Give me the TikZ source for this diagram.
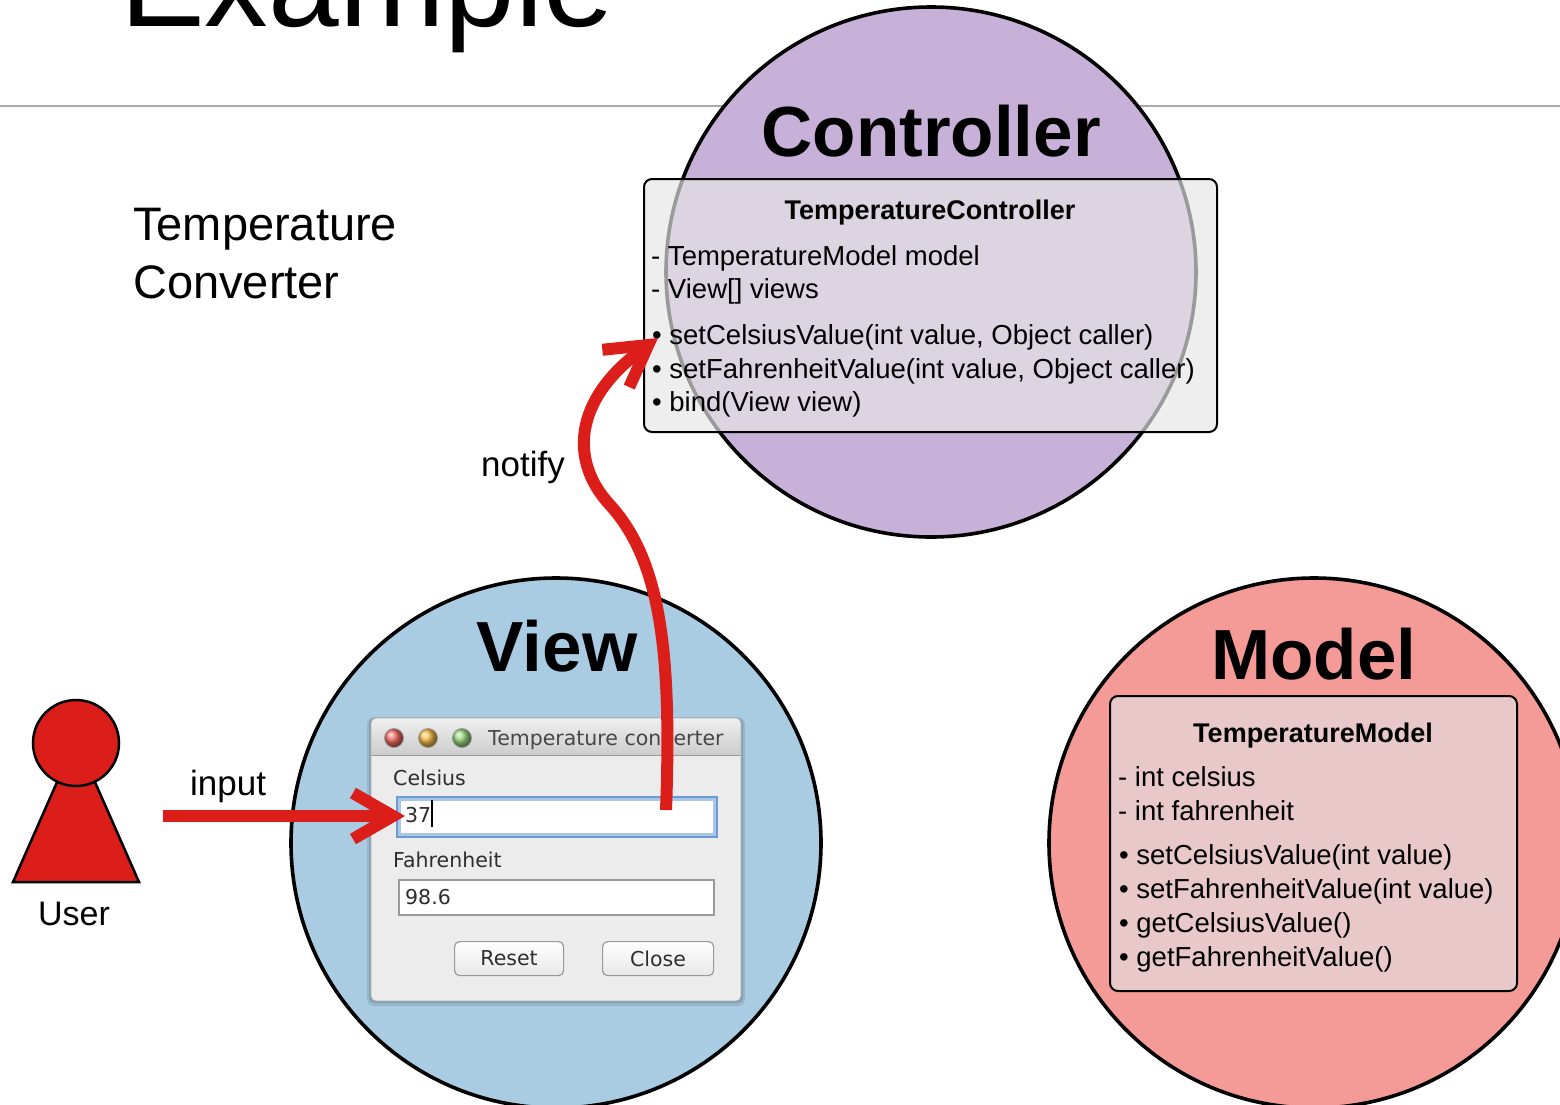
\documentclass[tikz,border=0pt]{standalone}
\usepackage{fontspec}
\setmainfont{Liberation Sans}
\newfontfamily\uifont{DejaVu Sans}
\usetikzlibrary{arrows.meta}
\definecolor{ctrlfill}{HTML}{C8B1D8}
\definecolor{viewfill}{HTML}{A9CCE3}
\definecolor{modelfill}{HTML}{F49B98}
\definecolor{modelboxfill}{HTML}{E8C8C8}
\definecolor{ctrlboxfill}{HTML}{E6E6E6}
\definecolor{arrowred}{HTML}{DC1E1A}
\definecolor{rulegray}{HTML}{AAAAAA}
\definecolor{uibody}{HTML}{ECECEC}
\definecolor{fieldglow}{HTML}{A8C6EA}
\definecolor{fieldblue}{HTML}{6E9AD2}
\definecolor{lightred}{HTML}{F06A62}
\definecolor{lightorange}{HTML}{F5BC48}
\definecolor{lightgreen}{HTML}{9AD77A}
\newcommand{\fs}[1]{\fontsize{#1}{#1}\selectfont}
\begin{document}
\begin{tikzpicture}[x=1pt,y=-1pt,
  mvc/.style={circle,draw=black,line width=3.6pt,minimum size=530pt,inner sep=0pt},
  biglabel/.style={font=\fs{71}\bfseries,anchor=base,inner sep=0pt},
  classbox/.style={draw=black,line width=2pt,rounded corners=8pt,anchor=north west,inner sep=0pt},
  member/.style={font=\fs{27.5},anchor=base west,inner sep=0pt},
  classtitle/.style={font=\fs{27}\bfseries,anchor=base,inner sep=0pt},
  plain/.style={font=\fs{35},inner sep=0pt},
  redarrow/.style={draw=arrowred,line width=12pt,-{Straight Barb[length=40pt,width=46pt]}},
  uitext/.style={font=\uifont\fs{20.5},text=black!82,anchor=base west,inner sep=0pt},
  uifield/.style={fill=white,anchor=north west,inner sep=0pt},
  uibutton/.style={draw=black!40,line width=1.2pt,rounded corners=5pt,top color=white,bottom color=black!9,
    font=\uifont\fs{20.5},text=black!82,anchor=north west,inner sep=0pt},
  light/.style={draw=black!40,line width=0.8pt},
]
\useasboundingbox (0,0) rectangle (1560,1104);
\clip (0,0) rectangle (1560,1104);

% heading and rule
\draw[rulegray,line width=2pt] (0,106) -- (1560,106);
\node[font=\fs{127},anchor=base west,inner sep=0pt] (title) at (120,26) {Example};
\node[font=\fs{47},anchor=base west,inner sep=0pt] (sub1) at (133,240) {Temperature};
\node[font=\fs{47},anchor=base west,inner sep=0pt] (sub2) at (133,298) {Converter};

% MVC circles
\node[mvc,fill=ctrlfill] (ctrl) at (931,272) {};
\node[mvc,fill=viewfill] (view) at (556,843) {};
\node[mvc,fill=modelfill] (model) at (1314,843) {};

\node[biglabel] (ctrllabel) at (931,156) {Controller};
\node[biglabel] (viewlabel) at (557,671) {View};
\node[biglabel] (modellabel) at (1314,679) {Model};

% controller class box
\node[classbox,fill=ctrlboxfill,fill opacity=0.67,minimum width=573pt,minimum height=253pt] (ctrlbox) at (643,178) {};
\node[classtitle] (ctrltitle) at (930,219) {TemperatureController};
\node[member] (c1) at (651,265) {- TemperatureModel model};
\node[member] (c2) at (651,298) {- View[] views};
\node[member] (c3) at (652,344) {• setCelsiusValue(int value, Object caller)};
\node[member] (c4) at (652,378) {• setFahrenheitValue(int value, Object caller)};
\node[member] (c5) at (652,411) {• bind(View view)};

% model class box
\node[classbox,fill=modelboxfill,minimum width=407pt,minimum height=295pt] (modelbox) at (1109,695) {};
\node[classtitle] (modeltitle) at (1313,742) {TemperatureModel};
\node[member] (m1) at (1118,786) {- int celsius};
\node[member] (m2) at (1118,820) {- int fahrenheit};
\node[member] (m3) at (1119,864) {• setCelsiusValue(int value)};
\node[member] (m4) at (1119,898) {• setFahrenheitValue(int value)};
\node[member] (m5) at (1119,932) {• getCelsiusValue()};
\node[member] (m6) at (1119,966) {• getFahrenheitValue()};

% Swing window
\fill[black,opacity=0.10,rounded corners=7pt] (367,717) rectangle (745,1006);
\fill[black,opacity=0.12,rounded corners=6pt] (369,718) rectangle (743,1003);
\begin{scope}
  \clip[rounded corners=5pt] (371,718) rectangle (741,1001);
  \fill[uibody] (371,718) rectangle (741,1001);
  \shade[top color=black!6,bottom color=black!20] (371,718) rectangle (741,755);
  \draw[black!40,line width=1pt] (371,755) -- (741,755);
\end{scope}
\draw[black!30,line width=0.8pt,rounded corners=5pt] (371,718) rectangle (741,1001);
\shade[ball color=lightred] (394,738) circle (9.5pt);
\draw[light] (394,738) circle (9.5pt);
\shade[ball color=lightorange] (428,738) circle (9.5pt);
\draw[light] (428,738) circle (9.5pt);
\shade[ball color=lightgreen] (462,738) circle (9.5pt);
\draw[light] (462,738) circle (9.5pt);
\node[uitext,text=black!72] (wtitle) at (488,745) {Temperature converter};

\node[uitext] (clabel) at (393,785) {Celsius};
\node[uifield,draw=fieldglow,line width=4pt,minimum width=316pt,minimum height=36pt] (cfield) at (397,797) {};
\draw[fieldblue,line width=1.2pt] (cfield.north west) rectangle (cfield.south east);
\node[uitext] (cval) at (405,822) {37};
\draw[black,line width=1.2pt] (432,800) -- (432,827);

\node[uitext] (flabel) at (393,867) {Fahrenheit};
\node[uifield,draw=black!40,line width=1.5pt,minimum width=315pt,minimum height=35pt] (ffield) at (398,879) {};
\node[uitext] (fval) at (405,904) {98.6};

\node[uibutton,minimum width=109pt,minimum height=34pt] (reset) at (454,941) {Reset};
\node[uibutton,minimum width=111pt,minimum height=34pt] (close) at (602,941) {Close};

% user
\filldraw[fill=arrowred,draw=black,line width=2.5pt] (13,882) -- (76,739) -- (139,882) -- cycle;
\node[circle,fill=arrowred,draw=black,line width=2.5pt,minimum size=86pt,inner sep=0pt] (head) at (76,743) {};
\node[plain,font=\fs{34},anchor=base] (user) at (74,925) {User};

% arrows
\coordinate (inS) at (163,816);
\coordinate (inE) at (405,816);
\draw[redarrow] (inS) -- (inE);
\node[plain,anchor=base west] (inputlabel) at (190,795) {input};

\coordinate (nS) at (666,810);
\coordinate (nM) at (610,505);
\coordinate (nE) at (658,338);
\draw[redarrow] (nS) .. controls (672,650) and (660,560) .. (nM) .. controls (570,462) and (572,400) .. (nE);
\node[plain,anchor=base west] (notifylabel) at (481,476) {notify};
\end{tikzpicture}
\end{document}
